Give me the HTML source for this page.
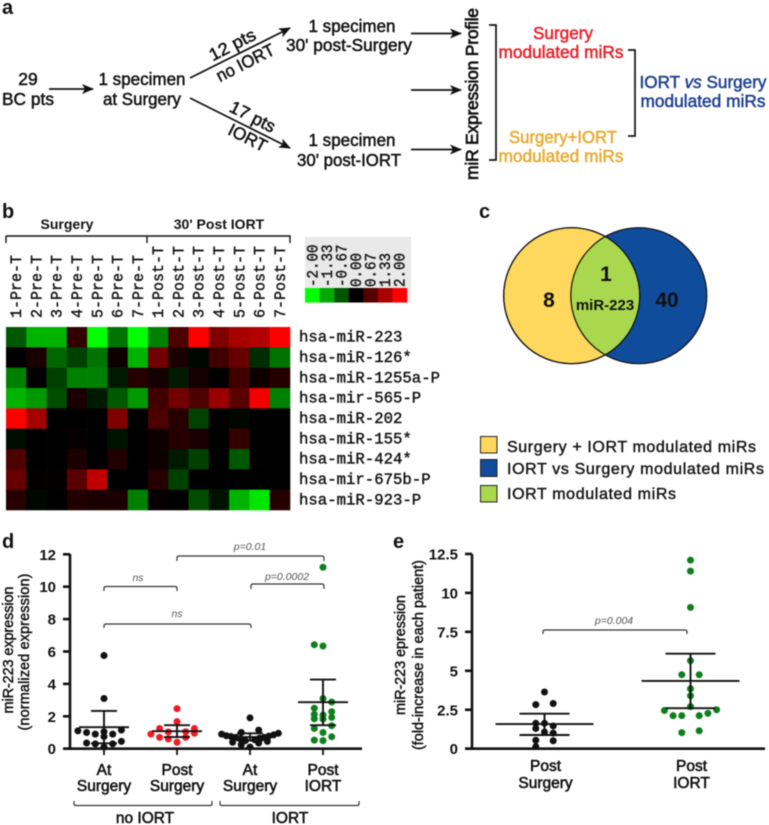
<!DOCTYPE html>
<html>
<head>
<meta charset="utf-8">
<title>miR-223 figure</title>
<style>
html,body{margin:0;padding:0;background:#fff;}
svg{display:block;filter:blur(0.55px);}
text{font-family:"Liberation Sans",sans-serif;fill:#111;}
.t{font-size:17.5px;stroke:#111;stroke-width:.5px;text-anchor:middle;}
.letter{font-size:20px;font-weight:bold;}
.mono{font-family:"Liberation Mono",monospace;font-size:15.5px;stroke:#222;stroke-width:.45px;fill:#111;}
.tick{font-size:15px;font-weight:bold;text-anchor:end;}
.cat{font-size:15.5px;stroke:#111;stroke-width:.55px;text-anchor:middle;}
.title{font-size:14.5px;stroke:#111;stroke-width:.45px;text-anchor:middle;}
.p{font-size:10.5px;font-style:italic;fill:#555;text-anchor:middle;}
.br{fill:none;stroke:#333;stroke-width:1.2px;}
.axis{stroke:#111;stroke-width:2.6px;fill:none;}
.line{stroke:#111;stroke-width:1.7px;fill:none;}
.legend-text{font-size:16px;stroke:#222;stroke-width:.45px;}
</style>
</head>
<body>
<svg id="fig" xmlns="http://www.w3.org/2000/svg" width="769" height="825" viewBox="0 0 769 825">
<defs>
<marker id="ah" viewBox="0 0 12 10" refX="11" refY="5" markerWidth="12" markerHeight="10" markerUnits="userSpaceOnUse" orient="auto"><path d="M0 0L12 5L0 10L3 5Z" fill="#111"/></marker>
<clipPath id="leftClip"><circle cx="571.7" cy="295.7" r="68"/></clipPath>
</defs>
<rect width="769" height="825" fill="#fff"/>

<!-- Panel a -->
<g>
<text class="letter" x="2" y="14">a</text>
<text class="t" x="28" y="85">29</text>
<text class="t" x="28" y="105" textLength="52" lengthAdjust="spacingAndGlyphs">BC pts</text>
<line class="line" x1="49" y1="89" x2="93" y2="89" marker-end="url(#ah)"/>
<text class="t" x="142" y="85" textLength="87" lengthAdjust="spacingAndGlyphs">1 specimen</text>
<text class="t" x="142" y="105" textLength="78" lengthAdjust="spacingAndGlyphs">at Surgery</text>
<line class="line" x1="190" y1="78" x2="290" y2="28" marker-end="url(#ah)"/>
<line class="line" x1="190" y1="98" x2="290" y2="148" marker-end="url(#ah)"/>
<text class="t" transform="translate(235,50) rotate(-27)" textLength="50" lengthAdjust="spacingAndGlyphs">12 pts</text>
<text class="t" transform="translate(248,68) rotate(-27)" textLength="63" lengthAdjust="spacingAndGlyphs">no IORT</text>
<text class="t" transform="translate(250,122) rotate(27)" textLength="49" lengthAdjust="spacingAndGlyphs">17 pts</text>
<text class="t" transform="translate(245,143) rotate(27)" textLength="41" lengthAdjust="spacingAndGlyphs">IORT</text>
<text class="t" x="352" y="32" textLength="87" lengthAdjust="spacingAndGlyphs">1 specimen</text>
<text class="t" x="349" y="51" textLength="126" lengthAdjust="spacingAndGlyphs">30' post-Surgery</text>
<text class="t" x="352" y="146" textLength="87" lengthAdjust="spacingAndGlyphs">1 specimen</text>
<text class="t" x="349" y="166" textLength="104" lengthAdjust="spacingAndGlyphs">30' post-IORT</text>
<line class="line" x1="411" y1="33.5" x2="461" y2="33.5" marker-end="url(#ah)"/>
<line class="line" x1="411" y1="90" x2="461" y2="90" marker-end="url(#ah)"/>
<line class="line" x1="411" y1="149.5" x2="461" y2="149.5" marker-end="url(#ah)"/>
<text class="t" transform="translate(478,94) rotate(-90)" textLength="172" lengthAdjust="spacing" style="stroke-width:.7px">miR Expression Profile</text>
<path class="line" d="M489 25H496V160H489"/>
<text class="t" x="563" y="39" style="fill:#e8202a;stroke:#e8202a" textLength="60" lengthAdjust="spacingAndGlyphs">Surgery</text>
<text class="t" x="561" y="58" style="fill:#e8202a;stroke:#e8202a" textLength="125" lengthAdjust="spacingAndGlyphs">modulated miRs</text>
<text class="t" x="563" y="143" style="fill:#e8a92f;stroke:#e8a92f" textLength="108" lengthAdjust="spacingAndGlyphs">Surgery+IORT</text>
<text class="t" x="561" y="162" style="fill:#e8a92f;stroke:#e8a92f" textLength="125" lengthAdjust="spacingAndGlyphs">modulated miRs</text>
<path class="line" d="M628 50H635V136H628"/>
<text class="t" x="703" y="88" style="fill:#1f3f8f;stroke:#1f3f8f" textLength="127" lengthAdjust="spacingAndGlyphs">IORT <tspan font-style="italic">vs</tspan> Surgery</text>
<text class="t" x="703" y="107" style="fill:#1f3f8f;stroke:#1f3f8f" textLength="125" lengthAdjust="spacingAndGlyphs">modulated miRs</text>
</g>

<!-- Panel b static -->
<g id="panelB">
<text class="letter" x="2" y="218">b</text>
<text class="title" x="67" y="229" style="font-weight:bold;stroke:none;font-size:14px">Surgery</text>
<text class="title" x="219" y="229" style="font-weight:bold;stroke:none;font-size:14px">30' Post IORT</text>
<path class="br" d="M6 243V236.5Q6 236 7 236H147V243M147 236H290V243" style="stroke:#111;stroke-width:1.4px"/>
<rect x="305" y="237" width="106" height="66" fill="#e9e9e9"/>
</g>

<!-- Panel c -->
<g>
<text class="letter" x="479" y="218">c</text>
<circle cx="638.8" cy="295.7" r="68" fill="#0f4c9c" stroke="#111" stroke-width="1.2"/>
<circle cx="571.7" cy="295.7" r="68" fill="#fdd85d" stroke="#111" stroke-width="1.2"/>
<circle cx="638.8" cy="295.7" r="68" fill="#a9d84e" stroke="#111" stroke-width="1.2" clip-path="url(#leftClip)"/>
<circle cx="571.7" cy="295.7" r="68" fill="none" stroke="#111" stroke-width="1.2"/>
<text x="549" y="307" style="font-size:21px;font-weight:bold;text-anchor:middle">8</text>
<text x="606" y="281" style="font-size:21px;font-weight:bold;text-anchor:middle">1</text>
<text x="605" y="310" style="font-size:15px;font-weight:bold;text-anchor:middle">miR-223</text>
<text x="667" y="307" style="font-size:21px;font-weight:bold;text-anchor:middle">40</text>
<rect x="480.5" y="436.5" width="16.5" height="16.5" fill="#fdd85d" stroke="#222"/>
<rect x="480.5" y="459.5" width="16.5" height="17" fill="#0f4c9c" stroke="#222"/>
<rect x="480.5" y="485.5" width="16.5" height="16.5" fill="#a9d84e" stroke="#222"/>
<text class="legend-text" x="507" y="452" textLength="249" lengthAdjust="spacing">Surgery + IORT modulated miRs</text>
<text class="legend-text" x="507" y="474" textLength="257" lengthAdjust="spacing">IORT vs Surgery modulated miRs</text>
<text class="legend-text" x="507" y="499" textLength="169" lengthAdjust="spacing">IORT modulated miRs</text>
</g>

<!-- Panel d static -->
<g id="panelD">
<text class="letter" x="2" y="548">d</text>
<text class="title" transform="translate(13,650) rotate(-90)" textLength="127" lengthAdjust="spacing">miR-223 expression</text>
<text class="title" transform="translate(29,652) rotate(-90)" textLength="157" lengthAdjust="spacing">(normalized expression)</text>
<path class="br" d="M177 561V558Q177 556 179 556H322Q324 556 324 558V561"/>
<text class="p" x="250" y="550">p=0.01</text>
<path class="br" d="M104 591V588Q104 586.5 106 586.5H175Q177 586.5 177 588V591"/>
<text class="p" x="138" y="581">ns</text>
<path class="br" d="M251 589V586Q251 584 253 584H322Q324 584 324 586V589"/>
<text class="p" x="287" y="580">p=0.0002</text>
<path class="br" d="M104 628V626Q104 624 106 624H249Q251 624 251 626V628"/>
<text class="p" x="177" y="617">ns</text>
<path class="br" d="M74 801V804Q74 805.5 76 805.5H210Q212 805.5 212 804V801"/>
<path class="br" d="M220 801V804Q220 805.5 222 805.5H357Q359 805.5 359 804V801"/>
<text class="cat" x="145" y="823">no IORT</text>
<text class="cat" x="290" y="823">IORT</text>
</g>

<!-- Panel e static -->
<g id="panelE">
<text class="letter" x="393" y="548">e</text>
<text class="title" transform="translate(405,655) rotate(-90)" textLength="120" lengthAdjust="spacing">miR-223 epression</text>
<text class="title" transform="translate(423,655) rotate(-90)" textLength="190" lengthAdjust="spacing">(fold-increase in each patient)</text>
<path class="br" d="M543 634V632Q543 630 545 630H685Q687 630 687 632V634"/>
<text class="p" x="614" y="624">p=0.004</text>
</g>
</svg>

<script>
// ---------- Heatmap data ----------
var heatColumns = ['1-Pre-T','2-Pre-T','3-Pre-T','4-Pre-T','5-Pre-T','6-Pre-T','7-Pre-T','1-Post-T','2-Post-T','3-Post-T','4-Post-T','5-Post-T','6-Post-T','7-Post-T'];
var heatRows = ['hsa-miR-223','hsa-miR-126*','hsa-miR-1255a-P','hsa-mir-565-P','hsa-miR-202','hsa-miR-155*','hsa-miR-424*','hsa-mir-675b-P','hsa-miR-923-P'];
var heatValues = [
 [-0.7,-1.4,-1.4,0.4,-2,-0.9,-2,-1,0.6,2,1,1.3,1.4,2],
 [0,0.2,-0.8,-0.5,-0.9,0.1,-1.4,0.9,0.2,-0.05,0.5,0.8,-0.35,-0.9],
 [-1,0,-0.5,-1,-1,-0.2,0.3,0.15,-0.2,0.15,0,0.5,0.1,0.3],
 [-1.4,-1.2,-0.6,0.2,-0.2,-0.7,-1.2,0.5,0.9,0.6,1.2,0.7,1.9,-1],
 [2,1.3,0,0,0,1,0,0.6,0.3,-0.5,0,-0.05,0,0],
 [-0.1,0,0,0.05,0,-0.15,0,0.1,0.3,0.2,0,0.4,0,0],
 [0.6,0,0,0.2,0,0.25,0,0.1,-0.2,-0.5,0,-0.7,0.02,0],
 [0.8,0.03,0.02,0.7,1.5,0,0,0.3,-0.5,0,0,0,0,0],
 [0.3,-0.05,0,0.25,0.2,0.2,-1,0.05,0,-0.6,-0.15,-1.4,-1.8,0.3]
];
var colorKeyLevels = [-2,-1.33,-0.67,0,0.67,1.33,2];
var colorKeyLabels = ['-2.00','-1.33','-0.67','0.00','0.67','1.33','2.00'];

// ---------- Panel d data ----------
var dCategories = [['At','Surgery'],['Post','Surgery'],['At','Surgery'],['Post','IORT']];
var dTicks = [0,2,4,6,8,10,12];
var dAtSurgery = [5.75,3.1,1.15,1.1,1.05,1.0,0.9,0.9,0.75,0.45,0.35,0.3,0.3,0.1];
var dPostSurgery = [2.47,1.67,1.25,1.25,1.05,1.03,0.95,0.9,0.7,0.7,0.6,0.4];
var dAtSurgeryIort = [1.9,1.15,1.0,0.95,0.9,0.85,0.8,0.78,0.75,0.7,0.7,0.65,0.6,0.55,0.5,0.45,0.4,0.35,0.25,0.1];
var dPostIort = [11.2,6.42,6.34,3.1,2.88,2.5,2.28,2.12,2.08,1.93,1.83,1.85,1.42,1.25,1.0,0.74,0.53,0.5];
var dMeans = [1.33,1.08,0.72,2.87];
var dUpper = [2.33,1.45,0.95,4.27];
var dLower = [0.33,0.72,0.5,1.45];

// ---------- Panel e data ----------
var eCategories = [['Post','Surgery'],['Post','IORT']];
var eTicks = [0,2.5,5,7.5,10,12.5];
var eTickLabels = ['0','2.5','5','7.5','10','12.5'];
var ePostSurgery = [3.64,2.9,2.83,1.63,1.63,1.46,1.3,1.07,1.0,0.54,0.51,0.13];
var ePostIort = [12.1,11.4,9.07,5.65,4.75,4.75,3.85,3.4,2.7,2.5,2.45,2.27,2.12,2.12,2.12,1.15,1.03];
var eMeans = [1.58,4.35];
var eUpper = [2.25,6.1];
var eLower = [0.88,2.6];

var NS = 'http://www.w3.org/2000/svg';
function mk(parent, tag, attrs, txt){
  var n = document.createElementNS(NS, tag);
  for (var k in attrs) n.setAttribute(k, attrs[k]);
  if (txt !== undefined) n.textContent = txt;
  parent.appendChild(n);
  return n;
}
function heatColor(v){
  var c = Math.round(Math.min(1, Math.abs(v) / 2) * 255);
  return v >= 0 ? 'rgb(' + c + ',0,0)' : 'rgb(0,' + c + ',0)';
}

// ---------- Draw heatmap ----------
var panelB = document.getElementById('panelB');
var hx0 = 6, hy0 = 327, hw = 284 / heatColumns.length, hh = 183 / heatRows.length;
heatColumns.forEach(function(name, c){
  var t = mk(panelB, 'text', {'class':'mono', transform:'translate(' + (hx0 + hw * (c + 0.5) + 5) + ',318) rotate(-90)', textLength: name.length * 9, lengthAdjust:'spacingAndGlyphs'}, name);
  
  
});
heatRows.forEach(function(name, r){
  var t = mk(panelB, 'text', {'class':'mono', x:299, y: hy0 + hh * (r + 0.5) + 4.5, textLength: name.length * 9.4, lengthAdjust:'spacingAndGlyphs'}, name);
  
  
  heatValues[r].forEach(function(v, c){
    var cell = mk(panelB, 'rect', {x: hx0 + hw * c, y: hy0 + hh * r, width: hw + 0.3, height: hh + 0.3, fill: heatColor(v)});
    
    
  });
});
var kx0 = 305, kw = 102 / colorKeyLevels.length;
colorKeyLevels.forEach(function(v, i){
  var cell = mk(panelB, 'rect', {x: kx0 + kw * i, y: 288, width: kw + 0.2, height: 14.5, fill: heatColor(v)});
  
  
  var t = mk(panelB, 'text', {'class':'mono', transform:'translate(' + (kx0 + kw * (i + 0.5) + 5) + ',287) rotate(-90)', textLength: colorKeyLabels[i].length * 8.5, lengthAdjust:'spacingAndGlyphs'}, colorKeyLabels[i]);
  
  
});

// ---------- Scatter helpers ----------
// Prism-style binned scatter: points in the same 8px tall bin spread symmetrically.
function swarm(values, yScale, step){
  var base = yScale(0), bins = {};
  values.slice().sort(function(a, b){ return a - b; }).forEach(function(v){
    var key = Math.floor((base - yScale(v)) / 8);
    (bins[key] = bins[key] || []).push(v);
  });
  var placed = [];
  Object.keys(bins).forEach(function(key){
    var vals = bins[key], n = vals.length;
    var s = n > 1 ? Math.min(step, 52 / (n - 1)) : step;
    vals.forEach(function(v, i){
      var slot;
      if (n % 2 === 1) {
        slot = i === 0 ? 0 : (i % 2 === 1 ? -(i + 1) / 2 : i / 2);
      } else {
        slot = i % 2 === 0 ? -(i / 2 + 1) : (i + 1) / 2;
      }
      var pt = {y: yScale(v), off: slot * s};
      // points landing on each other across a bin edge: shift sideways
      while (placed.some(function(p){ return Math.abs(p.off - pt.off) < 3 && Math.abs(p.y - pt.y) < 3.5; })) {
        pt.off -= step;
      }
      placed.push(pt);
    });
  });
  return placed;
}
function drawErr(g, x, yScale, mean, up, lo, wMean, wCap){
  var m = mk(g, 'line', {x1:x - wMean, x2:x + wMean, y1:yScale(mean), y2:yScale(mean), stroke:'#111', 'stroke-width':1.9});
  
  
  var v = mk(g, 'line', {x1:x, x2:x, y1:yScale(up), y2:yScale(lo), stroke:'#111', 'stroke-width':1.9});
  
  
  var a = mk(g, 'line', {x1:x - wCap, x2:x + wCap, y1:yScale(up), y2:yScale(up), stroke:'#111', 'stroke-width':1.9});
  
  
  var b = mk(g, 'line', {x1:x - wCap, x2:x + wCap, y1:yScale(lo), y2:yScale(lo), stroke:'#111', 'stroke-width':1.9});
  
  
}
function drawDots(g, x, values, yScale, color){
  swarm(values, yScale, 8.7).forEach(function(p){
    var d = mk(g, 'circle', {cx:x + p.off, cy:p.y, r:3.5, fill:color});
    
    
  });
}
function drawAxes(g, x0, x1, yBase, yTop, ticks, labels, yScale){
  var yAxis = mk(g, 'line', {'class':'axis', x1:x0, x2:x0, y1:yBase + 1, y2:yTop});
  
  
  var xAxis = mk(g, 'line', {'class':'axis', x1:x0 - 7, x2:x1, y1:yBase, y2:yBase});
  
  
  ticks.forEach(function(v, i){
    var tk = mk(g, 'line', {'class':'axis', x1:x0 - 7, x2:x0, y1:yScale(v), y2:yScale(v)});
    
    
    var lb = mk(g, 'text', {'class':'tick', x:x0 - 14, y:yScale(v) + 5.5}, labels[i]);
    
    
  });
}

// ---------- Panel d ----------
var gd = document.getElementById('panelD');
function yD(v){ return 748.7 - v * 16.2; }
function xD(i){ return 104 + i * 73; }
drawAxes(gd, 70, 362, 748.7, 554, dTicks, dTicks.map(String), yD);
var dSeries = [dAtSurgery, dPostSurgery, dAtSurgeryIort, dPostIort];
var dColors = ['#111111','#ee1c25','#111111','#0e7f1c'];
dSeries.forEach(function(vals, i){
  drawDots(gd, xD(i), vals, yD, dColors[i]);
  drawErr(gd, xD(i), yD, dMeans[i], dUpper[i], dLower[i], 25, 13);
  var tk = mk(gd, 'line', {x1:xD(i), x2:xD(i), y1:748.7, y2:755, stroke:'#111', 'stroke-width':1.8});
  
  
  var l1 = mk(gd, 'text', {'class':'cat', x:xD(i), y:775}, dCategories[i][0]);
  
  
  var l2 = mk(gd, 'text', {'class':'cat', x:xD(i), y:791}, dCategories[i][1]);
  
  
});

// ---------- Panel e ----------
var ge = document.getElementById('panelE');
function yE(v){ return 748.7 - v * 15.58; }
function xE(i){ return 544.5 + i * 146; }
drawAxes(ge, 472, 765, 748.7, 554, eTicks, eTickLabels, yE);
var eSeries = [ePostSurgery, ePostIort];
var eColors = ['#111111','#0e7f1c'];
eSeries.forEach(function(vals, i){
  drawDots(ge, xE(i), vals, yE, eColors[i]);
  drawErr(ge, xE(i), yE, eMeans[i], eUpper[i], eLower[i], 49, 25);
  var l1 = mk(ge, 'text', {'class':'cat', x:xE(i) + 1, y:771}, eCategories[i][0]);
  
  
  var l2 = mk(ge, 'text', {'class':'cat', x:xE(i) + 1, y:788}, eCategories[i][1]);
  
  
});
</script>
</body>
</html>
